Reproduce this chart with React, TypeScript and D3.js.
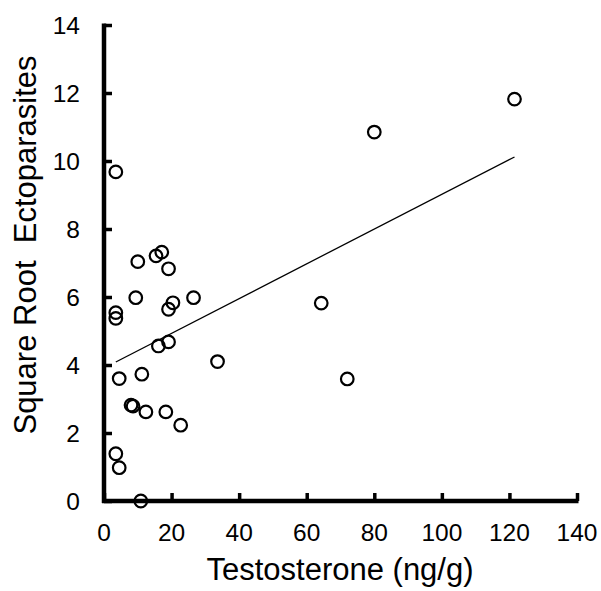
import { useEffect, useRef } from "react";
import * as d3 from "d3";

// testosterone (ng/g) per animal
const testosterone = [
  3.5, 3.5, 3.5, 4.5, 3.5, 4.5, 10.9, 10.0, 9.4, 11.2, 8.0, 8.6, 12.4, 15.4,
  17.1, 19.1, 20.4, 19.1, 16.1, 19.1, 18.3, 22.7, 26.5, 33.6, 64.3, 72.0, 80.0,
  121.5,
];
// square root of ectoparasite count, same order
const sqrtEcto = [
  9.68, 5.54, 5.37, 3.6, 1.39, 0.98, 0, 7.04, 5.98, 3.73, 2.82, 2.79, 2.62,
  7.21, 7.32, 6.83, 5.83, 5.64, 4.56, 4.68, 2.62, 2.23, 5.98, 4.1, 5.82, 3.59,
  10.85, 11.82,
];
const xTicks = [0, 20, 40, 60, 80, 100, 120, 140];
const yTicks = [0, 2, 4, 6, 8, 10, 12, 14];
// fitted trend line
const fitIntercept = 3.91;
const fitSlope = 0.0511;

const W = 601;
const H = 591;
const FONT = "Liberation Sans, Arial, sans-serif";

export default function App() {
  const ref = useRef(null);

  useEffect(() => {
    const svg = d3.select(ref.current);
    svg.selectAll("*").remove();

    const x = d3.scaleLinear().domain([0, 140]).range([104, 577]);
    const y = d3.scaleLinear().domain([0, 14]).range([501, 25]);

    // trend line
    const [xMin, xMax] = d3.extent(testosterone);
    svg
      .append("line")
      .attr("x1", x(xMin))
      .attr("y1", y(fitIntercept + fitSlope * xMin))
      .attr("x2", x(xMax))
      .attr("y2", y(fitIntercept + fitSlope * xMax))
      .attr("stroke", "#000")
      .attr("stroke-width", 1.3);

    // axes, ticks pointing inward
    const xAxis = svg
      .append("g")
      .attr("transform", `translate(0,${y(0)})`)
      .call(d3.axisTop(x).tickValues(xTicks).tickSize(8).tickFormat(() => ""));
    const yAxis = svg
      .append("g")
      .attr("transform", `translate(${x(0)},0)`)
      .call(d3.axisRight(y).tickValues(yTicks).tickSize(8).tickFormat(() => ""));

    [xAxis, yAxis].forEach((g) => {
      g.select(".domain").attr("stroke", "#000").attr("stroke-width", 4.5);
      g.selectAll(".tick line").attr("stroke", "#000").attr("stroke-width", 3.5);
    });
    xAxis.select(".domain").attr("d", `M${x(0) - 2},0H${x(140) + 1.5}`);
    yAxis.select(".domain").attr("d", `M0,${y(0) + 2}V${y(14) - 1.5}`);

    // tick labels
    svg
      .append("g")
      .selectAll("text")
      .data(xTicks)
      .enter()
      .append("text")
      .attr("x", (d) => x(d))
      .attr("y", 541)
      .attr("text-anchor", "middle")
      .attr("font-family", FONT)
      .attr("font-size", 24.5)
      .text((d) => d);

    svg
      .append("g")
      .selectAll("text")
      .data(yTicks)
      .enter()
      .append("text")
      .attr("x", 80)
      .attr("y", (d) => y(d) + 8.5)
      .attr("text-anchor", "end")
      .attr("font-family", FONT)
      .attr("font-size", 24.5)
      .text((d) => d);

    // axis titles
    svg
      .append("text")
      .attr("x", 340)
      .attr("y", 580)
      .attr("text-anchor", "middle")
      .attr("font-family", FONT)
      .attr("font-size", 31)
      .text("Testosterone (ng/g)");

    svg
      .append("text")
      .attr("transform", `translate(36,245) rotate(-90)`)
      .attr("text-anchor", "middle")
      .attr("font-family", FONT)
      .attr("font-size", 31)
      .attr("xml:space", "preserve")
      .style("white-space", "pre")
      .text("Square Root  Ectoparasites");

    // points
    svg
      .append("g")
      .selectAll("circle")
      .data(testosterone.map((t, i) => [t, sqrtEcto[i]]))
      .enter()
      .append("circle")
      .attr("cx", (d) => x(d[0]))
      .attr("cy", (d) => y(d[1]))
      .attr("r", 6.3)
      .attr("fill", "none")
      .attr("stroke", "#000")
      .attr("stroke-width", 2.2);
  }, []);

  return (
    <svg
      ref={ref}
      width={W}
      height={H}
      style={{ position: "absolute", left: 0, top: 0, background: "#fff" }}
    />
  );
}
